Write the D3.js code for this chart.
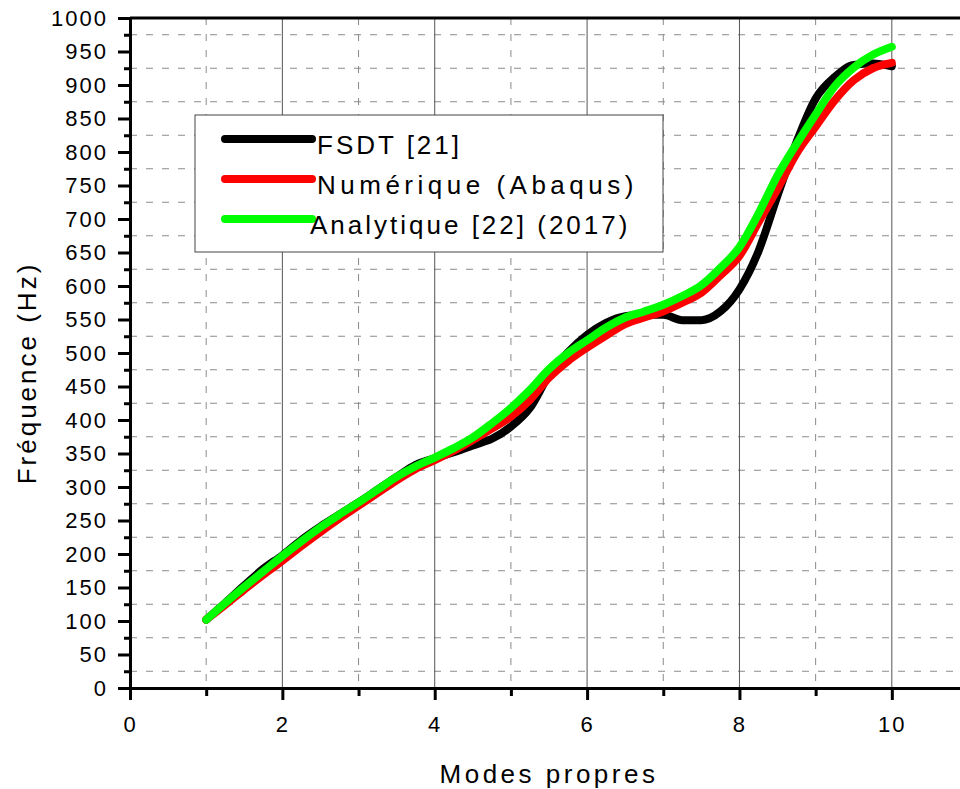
<!DOCTYPE html>
<html>
<head>
<meta charset="utf-8">
<script src="https://cdn.jsdelivr.net/npm/d3@7"></script>
<style>
    body { margin: 0; background: #fff; }
    svg { display: block; font-family: "Liberation Sans", Arial, sans-serif; }
</style>
</head>
<body>
<svg id="chart"></svg>
<script>
// values, every quarter mode
const modes = [1, 1.25, 1.5, 1.75, 2, 2.25, 2.5, 2.75, 3, 3.25, 3.5, 3.75, 4, 4.25, 4.5, 4.75,
    5, 5.25, 5.5, 5.75, 6, 6.25, 6.5, 6.75, 7, 7.25, 7.5, 7.75, 8, 8.25, 8.5, 8.75, 9, 9.25, 9.5, 9.75, 10];

const fsdt = [102, 127, 153, 178, 198, 221, 241, 259, 277, 296, 315, 333, 343, 352, 362, 372,
    390, 418, 467, 501, 527, 545, 555, 557, 557, 549, 549, 562, 595, 652, 735, 815, 880, 912, 930, 932, 928];

const numerique = [102, 124, 147, 169, 190, 212, 233, 253, 272, 291, 310, 327, 340, 354, 370, 387,
    405, 430, 463, 488, 508, 526, 543, 553, 562, 575, 590, 616, 645, 695, 745, 798, 838, 877, 907, 925, 933];

const analytique = [102, 127, 151, 174, 197, 219, 240, 259, 277, 296, 315, 331, 344, 358, 374, 395,
    418, 445, 476, 500, 519, 538, 553, 562, 572, 585, 601, 627, 658, 708, 765, 812, 856, 898, 926, 945, 957];

const seriesNames = ['FSDT [21]', 'Numérique (Abaqus)', 'Analytique [22] (2017)'];
const seriesColors = ['#000000', '#ff0000', '#00ff00'];

const xMajorTicks = [0, 2, 4, 6, 8, 10];
const xMinorTicks = [1, 3, 5, 7, 9];
const yMajorTicks = [0, 50, 100, 150, 200, 250, 300, 350, 400, 450, 500, 550, 600, 650, 700, 750, 800, 850, 900, 950, 1000];
const yMinorTicks = [25, 75, 125, 175, 225, 275, 325, 375, 425, 475, 525, 575, 625, 675, 725, 775, 825, 875, 925, 975];

class LineChart {
    constructor(_config, _data) {
        this.config = {
            parentElement: _config.parentElement,
            containerWidth: _config.containerWidth || 960,
            containerHeight: _config.containerHeight || 789,
            margin: _config.margin || { top: 18, right: -8, bottom: 101, left: 130 }
        }
        this.data = _data;
        this.initVis();
    }

    initVis() {
        let vis = this;

        vis.width = vis.config.containerWidth - vis.config.margin.left - vis.config.margin.right;
        vis.height = vis.config.containerHeight - vis.config.margin.top - vis.config.margin.bottom;

        vis.xScale = d3.scaleLinear()
            .domain([0, 11])
            .range([0, vis.width]);

        vis.yScale = d3.scaleLinear()
            .domain([0, 1000])
            .range([vis.height, 0]);

        vis.svg = d3.select(vis.config.parentElement)
            .attr('width', vis.config.containerWidth)
            .attr('height', vis.config.containerHeight);

        vis.chart = vis.svg.append('g')
            .attr('transform', `translate(${vis.config.margin.left},${vis.config.margin.top})`);

        // grid: dashed at the minor ticks, solid at the major x ticks
        vis.chart.append('g').selectAll('line')
            .data(yMinorTicks)
            .join('line')
            .attr('x1', 0)
            .attr('x2', vis.width)
            .attr('y1', d => vis.yScale(d))
            .attr('y2', d => vis.yScale(d))
            .attr('stroke', '#8a8a8a')
            .attr('stroke-dasharray', '7,9');

        vis.chart.append('g').selectAll('line')
            .data(xMinorTicks)
            .join('line')
            .attr('x1', d => vis.xScale(d))
            .attr('x2', d => vis.xScale(d))
            .attr('y1', 0)
            .attr('y2', vis.height)
            .attr('stroke', '#8a8a8a')
            .attr('stroke-dasharray', '7,9');

        vis.chart.append('g').selectAll('line')
            .data(xMajorTicks.filter(d => d > 0))
            .join('line')
            .attr('x1', d => vis.xScale(d))
            .attr('x2', d => vis.xScale(d))
            .attr('y1', 0)
            .attr('y2', vis.height)
            .attr('stroke', '#555')
            .attr('stroke-width', 1);

        vis.line = d3.line()
            .x(d => vis.xScale(d.mode))
            .y(d => vis.yScale(d.value))
            .curve(d3.curveMonotoneX);

        vis.renderVis();
    }

    renderVis() {
        let vis = this;

        vis.chart.selectAll('.series')
            .data(vis.data)
            .join('path')
            .attr('class', 'series')
            .attr('d', d => vis.line(d.values))
            .attr('fill', 'none')
            .attr('stroke', d => d.color)
            .attr('stroke-width', 8)
            .attr('stroke-linecap', 'round')
            .attr('stroke-linejoin', 'round');

        // axes
        let yAxis = d3.axisLeft(vis.yScale)
            .tickValues(yMajorTicks)
            .tickFormat(d3.format('d'))
            .tickSize(12)
            .tickSizeOuter(0)
            .tickPadding(10);
        let yMinor = d3.axisLeft(vis.yScale)
            .tickValues(yMinorTicks)
            .tickSize(6)
            .tickSizeOuter(0)
            .tickFormat('');
        let xAxis = d3.axisBottom(vis.xScale)
            .tickValues(xMajorTicks)
            .tickFormat(d3.format('d'))
            .tickSize(12)
            .tickSizeOuter(0)
            .tickPadding(16);
        let xMinor = d3.axisBottom(vis.xScale)
            .tickValues(xMinorTicks)
            .tickSize(8)
            .tickSizeOuter(0)
            .tickFormat('');

        vis.chart.append('g').call(yMinor);
        vis.chart.append('g').attr('transform', `translate(0,${vis.height})`).call(xMinor);
        vis.chart.append('g').attr('class', 'axis').call(yAxis);
        vis.chart.append('g').attr('class', 'axis')
            .attr('transform', `translate(0,${vis.height})`)
            .call(xAxis);

        vis.chart.selectAll('.domain, .tick line')
            .attr('stroke', '#000')
            .attr('stroke-width', 3);
        vis.chart.selectAll('.tick text')
            .attr('fill', '#000')
            .style('font-size', '22px')
            .style('letter-spacing', '2px');

        // top frame line
        vis.chart.append('line')
            .attr('x1', 0)
            .attr('x2', vis.width)
            .attr('y1', 0)
            .attr('y2', 0)
            .attr('stroke', '#000')
            .attr('stroke-width', 3);

        // axis titles
        vis.svg.append('text')
            .attr('text-anchor', 'middle')
            .attr('transform', 'translate(36,373) rotate(-90)')
            .style('font-size', '26px')
            .style('letter-spacing', '3px')
            .text('Fréquence (Hz)');

        vis.svg.append('text')
            .attr('text-anchor', 'middle')
            .attr('x', 549)
            .attr('y', 783)
            .style('font-size', '26px')
            .style('letter-spacing', '3.5px')
            .text('Modes propres');

        // legend
        let legend = vis.svg.append('g')
            .attr('transform', 'translate(195,115)');
        legend.append('rect')
            .attr('width', 468)
            .attr('height', 137)
            .attr('fill', '#fff')
            .attr('stroke', '#444')
            .attr('stroke-width', 1);
        let items = legend.selectAll('.item')
            .data(vis.data)
            .join('g')
            .attr('class', 'item')
            .attr('transform', (d, i) => `translate(0,${24 + i * 40})`);
        items.append('line')
            .attr('x1', 30)
            .attr('x2', 117)
            .attr('stroke', d => d.color)
            .attr('stroke-width', 8)
            .attr('stroke-linecap', 'round');
        items.append('text')
            .attr('x', (d, i) => i === 2 ? 115 : 122)
            .attr('y', 15)
            .style('font-size', '26px')
            .style('letter-spacing', (d, i) => i === 1 ? '4.5px' : '3px')
            .text(d => d.name);
    }
}

let data = [fsdt, numerique, analytique].map((vals, i) => ({
    name: seriesNames[i],
    color: seriesColors[i],
    values: modes.map((m, j) => ({ mode: m, value: vals[j] }))
}));

new LineChart({ parentElement: '#chart' }, data);
</script>
</body>
</html>
